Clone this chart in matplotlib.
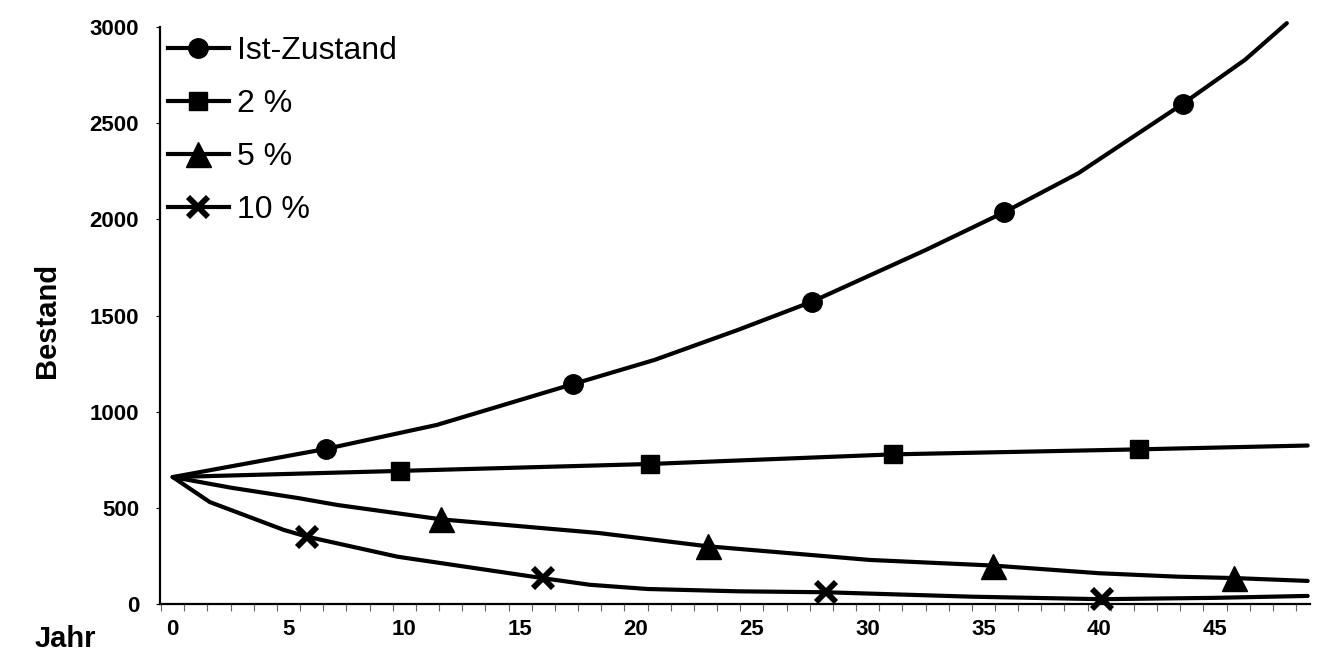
import matplotlib
matplotlib.use("Agg")
import matplotlib.pyplot as plt
from matplotlib.lines import Line2D
import numpy as np

# ---- data ----
ist_x = [0, 6.6, 11.4, 17.3, 20.8, 24.4, 27.6, 32.5, 35.9, 39.1, 43.6, 46.3, 48.1]
ist_y = [660, 806, 931, 1144, 1269, 1425, 1572, 1840, 2037, 2240, 2600, 2830, 3020]
ist_mx = [6.6, 17.3, 27.6, 35.9, 43.6]
ist_my = [806, 1144, 1572, 2037, 2600]

p2_x = [0, 9.8, 20.6, 31.1, 41.7, 49]
p2_y = [660, 692, 728, 778, 804, 824]
p2_mx = [9.8, 20.6, 31.1, 41.7]
p2_my = [692, 728, 778, 804]

p5_x = [0, 2.5, 5.4, 7.1, 11.6, 18.4, 23.1, 30.1, 35.4, 40.0, 43.4, 45.8, 49]
p5_y = [660, 605, 551, 515, 440, 369, 300, 229, 200, 160, 142, 135, 120]
p5_mx = [11.6, 23.1, 35.4, 45.8]
p5_my = [440, 300, 200, 135]

p10_x = [0, 1.6, 4.8, 5.8, 9.7, 16.0, 18.0, 20.5, 24.4, 28.2, 34.5, 40.1, 45, 49]
p10_y = [660, 530, 385, 350, 246, 134, 100, 78, 66, 61, 38, 25, 32, 42]
p10_mx = [5.8, 16.0, 28.2, 40.1]
p10_my = [350, 134, 61, 25]

labels = ["Ist-Zustand", "2 %", "5 %", "10 %"]
x_ticks = [0, 5, 10, 15, 20, 25, 30, 35, 40, 45]
y_ticks = [0, 500, 1000, 1500, 2000, 2500, 3000]

W, H = 1319, 654
fig = plt.figure(figsize=(W / 100, H / 100), dpi=100)
ax = fig.add_axes([160 / W, 1 - 604 / H, (1310 - 160) / W, (604 - 27) / H])

lw = 3.0
styles = [
    dict(marker="o", markersize=14),
    dict(marker="s", markersize=13.5),
    dict(marker="^", markersize=18),
    dict(marker="x", markersize=14, markeredgewidth=4.2),
]
series = [
    (ist_x, ist_y, ist_mx, ist_my),
    (p2_x, p2_y, p2_mx, p2_my),
    (p5_x, p5_y, p5_mx, p5_my),
    (p10_x, p10_y, p10_mx, p10_my),
]
for (cx, cy, mx, my), st in zip(series, styles):
    ax.plot(cx, cy, color="black", lw=lw, solid_joinstyle="round",
            solid_capstyle="round", clip_on=False, zorder=3)
    ax.plot(mx, my, linestyle="none", color="black", clip_on=False,
            zorder=4, **st)

ax.set_xlim(-0.55, 49.1)
ax.set_ylim(0, 3000)

for s in ["top", "right"]:
    ax.spines[s].set_visible(False)
for s in ["left", "bottom"]:
    ax.spines[s].set_linewidth(1.6)
    ax.spines[s].set_color("black")

tickfont = dict(family="Liberation Sans", weight="bold", size=16)
ax.set_xticks(x_ticks)
ax.set_xticklabels([str(v) for v in x_ticks], **tickfont)
ax.set_xticks(np.arange(-0.5, 49.0, 1.0), minor=True)
ax.tick_params(axis="x", which="major", length=0, pad=11)
ax.tick_params(axis="x", which="minor", length=5, width=0.8, direction="out", color="#666666")
ax.set_yticks(y_ticks)
ax.set_yticklabels([str(v) for v in y_ticks], **tickfont)
ax.tick_params(axis="y", which="major", length=3, width=0.8, pad=12)

handles = [Line2D([0], [0], color="black", lw=lw, **st) for st in styles]
leg = ax.legend(handles, labels, loc="upper left",
                bbox_to_anchor=(168 / W, 1 - 36 / H), bbox_transform=fig.transFigure,
                frameon=False, borderaxespad=0, borderpad=0,
                handlelength=1.9, handletextpad=0.25, labelspacing=0.72,
                prop=dict(family="Liberation Sans", size=23))

labfont = dict(family="Liberation Sans", weight="bold", size=21)
fig.text(35 / W, 1 - 639 / H, "Jahr", ha="left", va="center", **labfont)
fig.text(47 / W, 1 - 320 / H, "Bestand", ha="center", va="center", rotation=90, **labfont)

fig.savefig("out.png", dpi=100)
